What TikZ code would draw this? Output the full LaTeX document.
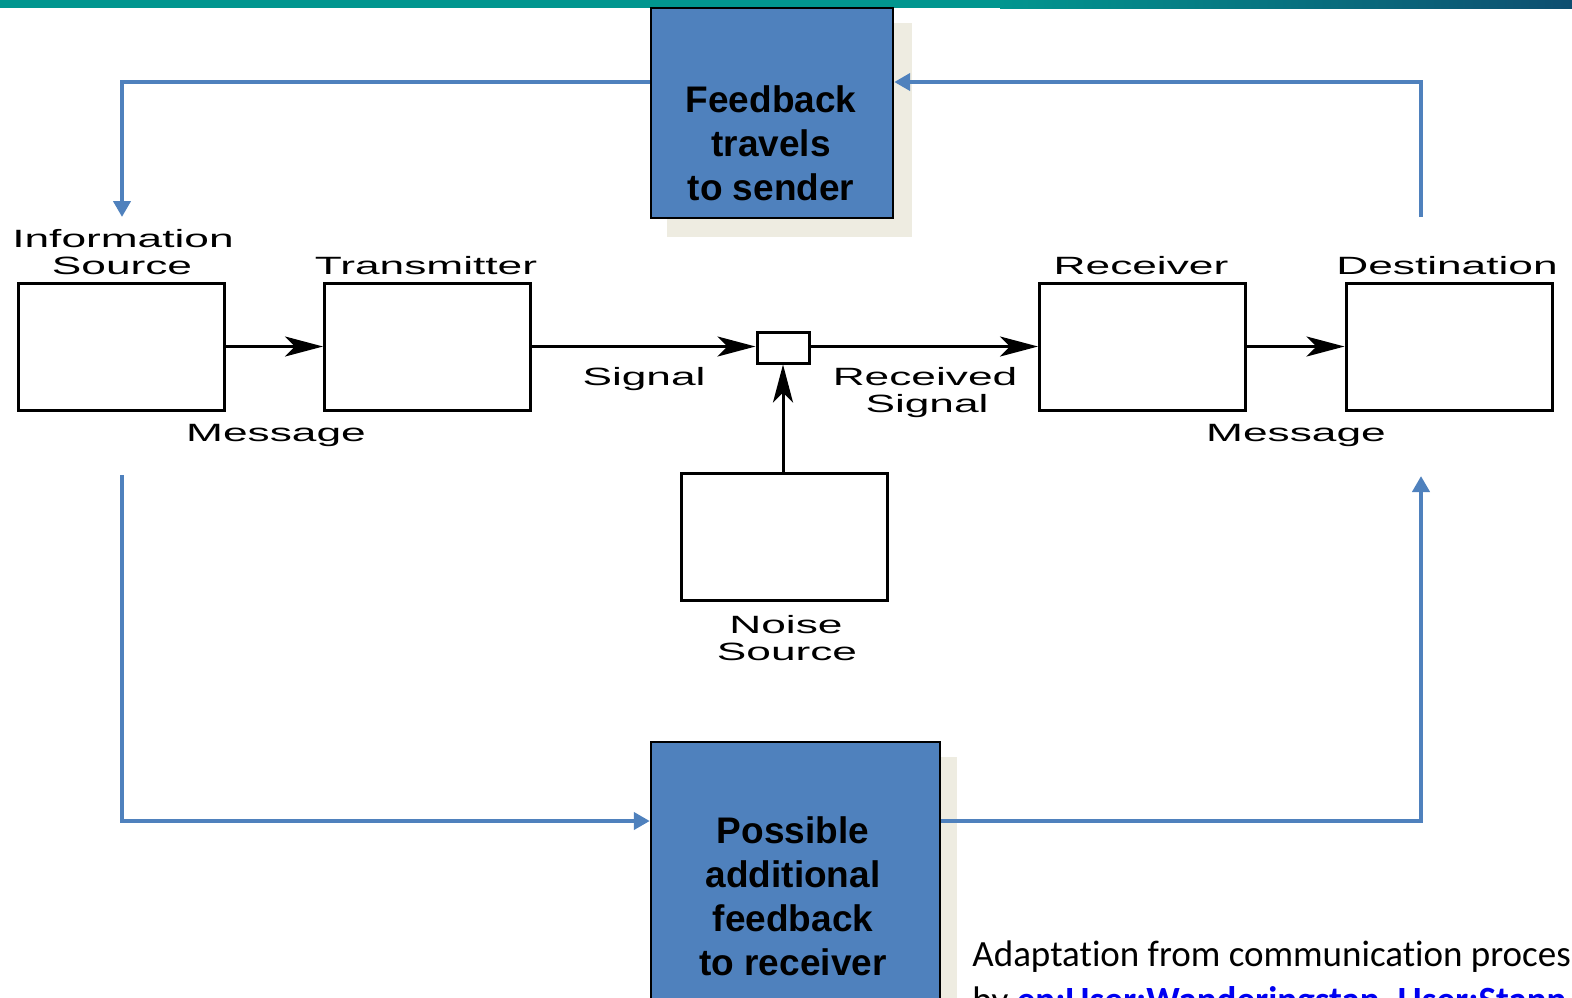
\documentclass[tikz,border=0pt]{standalone}
\usepackage{fontspec}
\setmainfont{Liberation Sans}
\newfontfamily\widefont[FakeStretch=1.77]{Liberation Sans}
\newfontfamily\calfont[Ligatures=NoCommon]{Carlito}
\usetikzlibrary{arrows.meta}
\definecolor{ofblue}{HTML}{4F81BD}
\definecolor{shbeige}{HTML}{EEECE1}
\definecolor{barteal}{HTML}{01968F}
\definecolor{bardark}{HTML}{0E4E70}
\definecolor{linkblue}{HTML}{0000F0}
\tikzset{
  wbox/.style={draw=black,line width=1.5pt,fill=white,minimum width=103pt,minimum height=63.5pt,inner sep=0pt},
  jbox/.style={draw=black,line width=1.5pt,fill=white,minimum width=26pt,minimum height=15.5pt,inner sep=0pt},
  blk/.style={line width=1.5pt,-{Stealth[length=19pt,width=10pt,inset=5pt]}},
  lbl/.style={font=\widefont\fontsize{12.5}{15}\selectfont,inner sep=0pt,anchor=base},
  bbox/.style={draw=black,line width=1.2pt,fill=ofblue,inner sep=0pt},
  btext/.style={font=\bfseries\fontsize{18.5}{22}\selectfont,align=center,inner sep=0pt},
  bl/.style={draw=ofblue,line width=2.4pt,-{Triangle[length=8pt,width=8.5pt]}},
  note/.style={font=\calfont\fontsize{18.5}{22}\selectfont,inner sep=0pt,anchor=base west}
}
\begin{document}
\begin{tikzpicture}[x=0.5pt,y=-0.5pt]
\useasboundingbox (0,0) rectangle (1572,997);
\clip (0,0) rectangle (1572,997);
% top bar
\fill[barteal] (0,0) rectangle (1000,8);
\shade[left color=barteal,right color=bardark] (1000,0) rectangle (1572,8);

% shadows
\fill[shbeige] (667,23) rectangle (912,237);
\fill[shbeige] (667,757) rectangle (957,1040);

% blue boxes
\node[bbox,minimum width=121pt,minimum height=105pt] (fb) at (772,113) {};
\node[btext] (fbt) at (771,143) {Feedback\\travels\\to sender};
\node[bbox,minimum width=144.5pt,minimum height=139pt] (pb) at (795.5,881) {};
\node[btext] (pbt) at (793,896) {Possible\\additional\\feedback\\to receiver};

% black boxes
\node[wbox] (info) at (121,346.5) {};
\node[wbox] (trans) at (427.5,346.5) {};
\node[jbox] (junc) at (783,347.5) {};
\node[wbox] (recv) at (1142.5,346.5) {};
\node[wbox] (dest) at (1449,346.5) {};
\node[wbox] (noise) at (784,536.5) {};

% black arrows
\draw[blk] (info.east) -- (trans.west |- info.east);
\draw[blk] (trans.east) -- (junc.west |- trans.east);
\draw[blk] (junc.east |- recv.west) -- (recv.west);
\draw[blk] (recv.east) -- (dest.west);
\draw[blk] (noise.north -| junc.south) -- (junc.south);

% labels
\node[lbl] (l1) at (123,247) {Information};
\node[lbl] (l2) at (122,274) {Source};
\node[lbl] (l3) at (426,274) {Transmitter};
\node[lbl] (l4) at (1141,274) {Receiver};
\node[lbl] (l5) at (1447,274) {Destination};
\node[lbl] (l6) at (276,441) {Message};
\node[lbl] (l7) at (644,385) {Signal};
\node[lbl] (l8) at (925,385) {Received};
\node[lbl] (l9) at (927,412) {Signal};
\node[lbl] (l10) at (1296,441) {Message};
\node[lbl] (l11) at (786,633) {Noise};
\node[lbl] (l12) at (787,660) {Source};

% blue connectors
\coordinate (ty) at (0,82);
\coordinate (by) at (0,821);
\coordinate (infoTop) at (122,217);
\coordinate (destTop) at (1421,217);
\coordinate (infoBot) at (122,475);
\coordinate (destBot) at (1421,476);
\draw[bl] (fb.west |- ty) -| (infoTop);
\draw[bl] (destTop) |- (fb.east |- ty);
\draw[bl] (infoBot) |- (pb.west |- by);
\draw[bl] (pb.east |- by) -| (destBot);

% note
\node[note] (n1) at (972,966) {Adaptation from communication proces};
\node[note] (n2) at (972,1012) {by \textcolor{linkblue}{\bfseries\underline{en:User:Wanderingstan, User:Stann}}};
\end{tikzpicture}
\end{document}
